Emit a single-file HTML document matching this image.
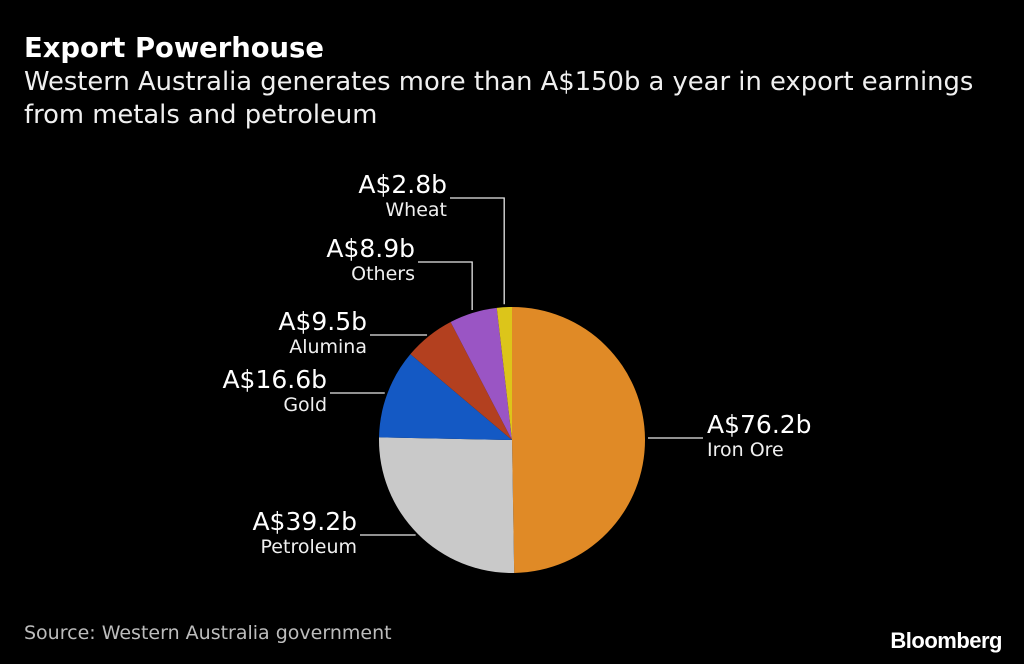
<!DOCTYPE html>
<html><head><meta charset="utf-8"><style>
body{margin:0;background:#000;width:1024px;height:664px;overflow:hidden;font-family:"DejaVu Sans","Liberation Sans",sans-serif;color:#fff}
#title{position:absolute;left:24px;top:33px;font-size:27.4px;font-weight:bold}
#sub{position:absolute;left:24px;top:66px;font-size:25.8px;line-height:33px;color:#f0f0f0;white-space:nowrap}
#source{position:absolute;left:24px;top:622px;font-size:19px;color:#bdbdbd}
#logo{position:absolute;right:22px;top:628px;font-size:22px;font-weight:bold;letter-spacing:-0.5px;font-family:"Liberation Sans",sans-serif}
svg{position:absolute;left:0;top:0}
</style></head><body>
<div id="title">Export Powerhouse</div>
<div id="sub">Western Australia generates more than A$150b a year in export earnings<br>from metals and petroleum</div>
<svg id="chart" width="1024" height="664" font-family="DejaVu Sans, Liberation Sans, sans-serif"></svg>
<div id="source">Source: Western Australia government</div>
<div id="logo">Bloomberg</div>
<script>
const categories=["Iron Ore","Petroleum","Gold","Alumina","Others","Wheat"];
const values=[76.2,39.2,16.6,9.5,8.9,2.8];
const valueLabels=["A$76.2b","A$39.2b","A$16.6b","A$9.5b","A$8.9b","A$2.8b"];
const colors=["#e08a26","#c9c9c9","#1459c4","#b3401f","#9a55c4","#dcc51a"];
const cx=512,cy=440,r=133;
const svg=document.getElementById('chart');
const NS="http://www.w3.org/2000/svg";
const total=values.reduce((a,b)=>a+b,0);
function pt(a,rr){return [cx+rr*Math.sin(a),cy-rr*Math.cos(a)];}
let acc=0;
const mids=[];
values.forEach((v,i)=>{
  const a0=acc/total*2*Math.PI; acc+=v; const a1=acc/total*2*Math.PI;
  mids.push((a0+a1)/2);
  const p0=pt(a0,r),p1=pt(a1,r);
  const path=document.createElementNS(NS,'path');
  path.setAttribute('d',`M${cx},${cy}L${p0[0]},${p0[1]}A${r},${r} 0 ${a1-a0>Math.PI?1:0} 1 ${p1[0]},${p1[1]}Z`);
  path.setAttribute('fill',colors[i]);
  
  
  svg.appendChild(path);
});
const layout=[
 {side:'r',elbow:null,ly:438,lx:703},
 {side:'l',elbow:null,ly:535,lx:360},
 {side:'l',elbow:null,ly:393,lx:330},
 {side:'l',elbow:null,ly:335,lx:370},
 {side:'l',elbow:262,ly:262,lx:418},
 {side:'l',elbow:198,ly:198,lx:450}
];
layout.forEach((L,i)=>{
  const p=pt(mids[i],r+3);
  let d;
  if(L.elbow!==null){d=`M${p[0]},${p[1]}L${p[0]},${L.elbow}L${L.lx},${L.elbow}`;}
  else{const sx=L.side==='r'?Math.max(p[0],cx+r+3):p[0]; d=`M${sx},${L.ly}L${L.lx},${L.ly}`; if(Math.abs(p[1]-L.ly)>2) d=`M${p[0]},${p[1]}L${p[0]},${L.ly}L${L.lx},${L.ly}`;}
  const line=document.createElementNS(NS,'path');
  line.setAttribute('d',d);line.setAttribute('stroke','#e8e8e8');line.setAttribute('fill','none');line.setAttribute('stroke-width','1.3');
  
  
  svg.appendChild(line);
  const anchor=L.side==='r'?'start':'end';
  const tx=L.side==='r'?L.lx+4:L.lx-3;
  const t1=document.createElementNS(NS,'text');
  t1.setAttribute('x',tx);t1.setAttribute('y',L.ly-5);t1.setAttribute('text-anchor',anchor);
  t1.setAttribute('fill','#fff');t1.setAttribute('font-size','25');t1.textContent=valueLabels[i];
  
  
  svg.appendChild(t1);
  const t2=document.createElementNS(NS,'text');
  t2.setAttribute('x',tx);t2.setAttribute('y',L.ly+18);t2.setAttribute('text-anchor',anchor);
  t2.setAttribute('fill','#f0f0f0');t2.setAttribute('font-size','19');t2.textContent=categories[i];
  
  
  svg.appendChild(t2);
});
</script>
</body></html>
